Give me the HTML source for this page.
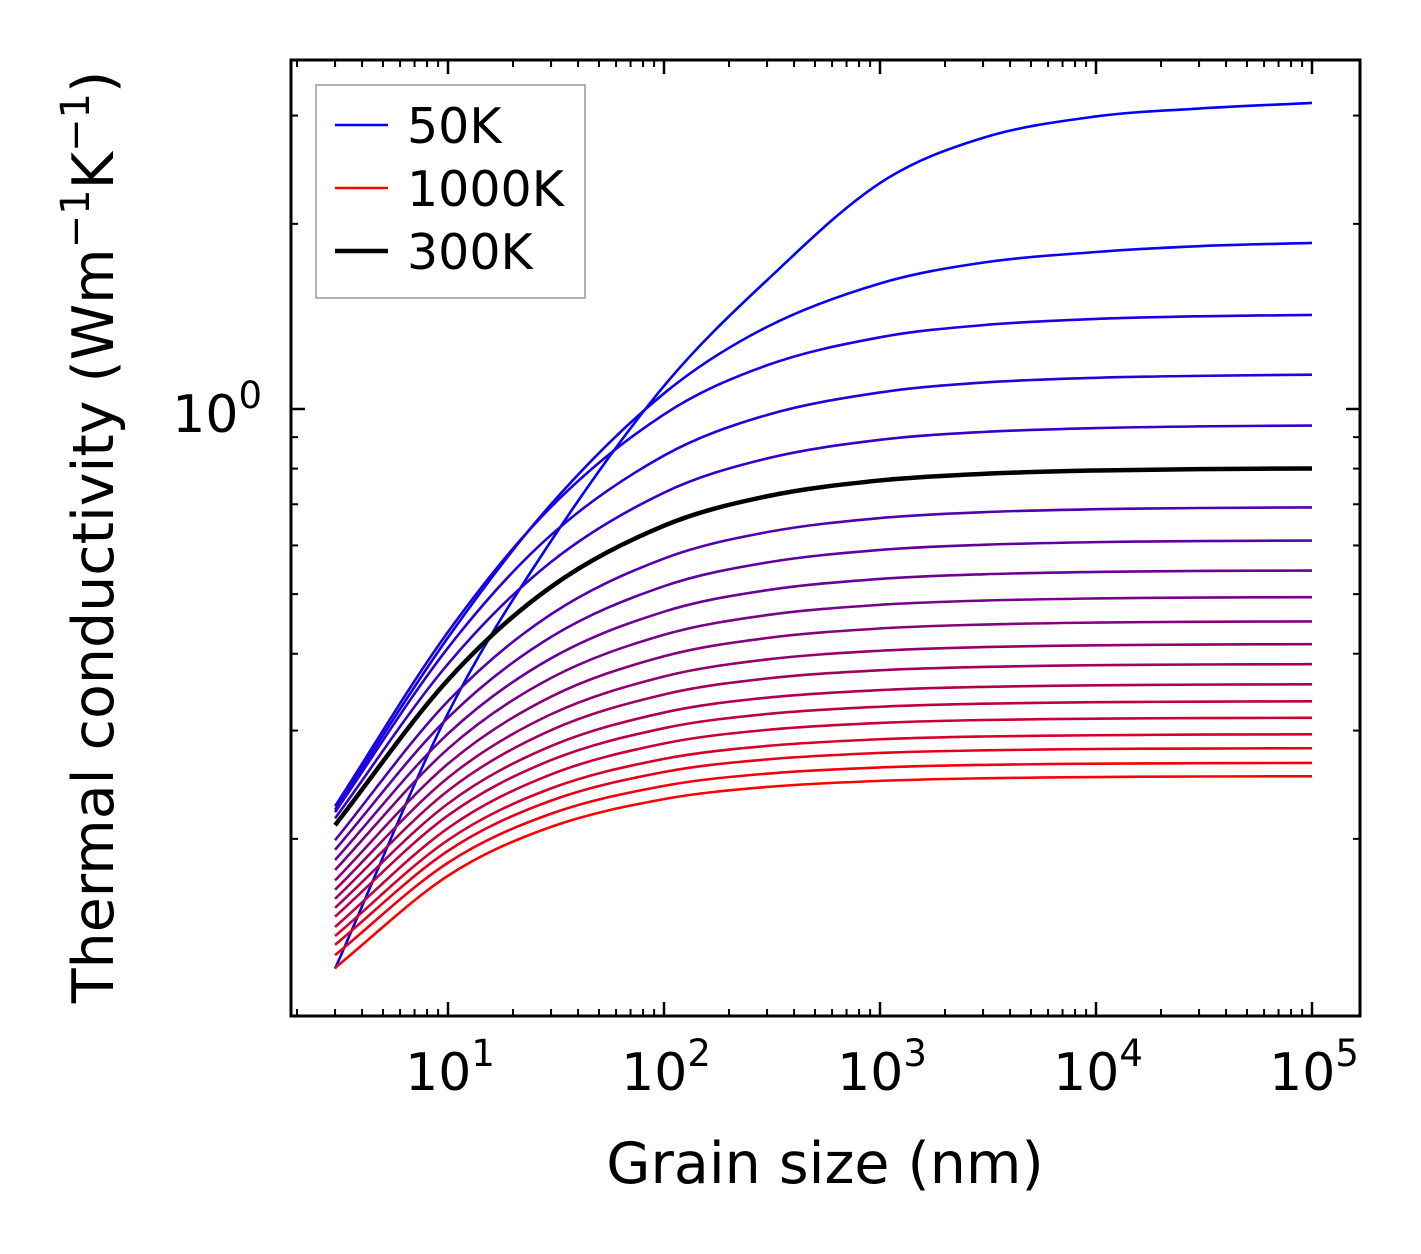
<!DOCTYPE html>
<html><head><meta charset="utf-8"><style>
html,body{margin:0;padding:0;background:#fff;}
svg{display:block;font-family:"DejaVu Sans","Liberation Sans",sans-serif;}
</style></head><body>
<svg id="chart" width="1421" height="1254" viewBox="0 0 1421 1254" xmlns="http://www.w3.org/2000/svg">
<g id="curves"></g>
<g id="ticks"></g>
<rect x="291" y="60" width="1069" height="956" fill="none" stroke="#000" stroke-width="3"/>
<g id="xlabels"></g>
<text x="262" y="432" font-size="52" text-anchor="end">10<tspan dy="-24" font-size="37">0</tspan></text>
<text x="825" y="1183" font-size="57" text-anchor="middle">Grain size (nm)</text>
<text transform="translate(113,537) rotate(-90)" font-size="57" text-anchor="middle">Thermal conductivity (Wm<tspan dy="-24" font-size="40">−1</tspan><tspan dy="24">K</tspan><tspan dy="-24" font-size="40">−1</tspan><tspan dy="24">)</tspan></text>
<g>
<rect x="316" y="85" width="269" height="213" fill="#fff" stroke="#999" stroke-width="1.5"/>
<line x1="335" y1="125" x2="388" y2="125" stroke="#0000ff" stroke-width="2.4"/>
<text x="407" y="143" font-size="49">50K</text>
<line x1="335" y1="188" x2="388" y2="188" stroke="#ff0000" stroke-width="2.4"/>
<text x="407" y="206" font-size="49">1000K</text>
<line x1="335" y1="251" x2="388" y2="251" stroke="#000" stroke-width="4.5"/>
<text x="407" y="269" font-size="49">300K</text>
</g>
</svg>
<script>
const grainSizes = [3, 10, 30, 100, 300, 1000, 3000, 10000, 30000, 100000];
const temperatures = [50,100,150,200,250,300,350,400,450,500,550,600,650,700,750,800,850,900,950,1000];
const k50 = [0.123,0.32,0.61,1.09,1.62,2.33,2.76,2.99,3.08,3.145];
const k100 = [0.223,0.425,0.70,1.06,1.36,1.60,1.73,1.80,1.84,1.862];
const k150 = [0.226,0.434,0.693,0.980,1.178,1.308,1.369,1.401,1.415,1.422];
const k200 = [0.221,0.409,0.624,0.840,0.978,1.064,1.104,1.124,1.132,1.137];
const k250 = [0.216,0.385,0.564,0.731,0.831,0.891,0.9175,0.931,0.937,0.940];
const k300 = [0.2105,0.3627,0.5138,0.646,0.7213,0.7653,0.7845,0.7944,0.7985,0.8004];
const k350 = [0.199,0.335,0.4637,0.5713,0.6306,0.6648,0.6796,0.6872,0.6903,0.6918];
const k400 = [0.192,0.3148,0.4259,0.5151,0.5629,0.590,0.6015,0.6075,0.6099,0.6111];
const k450 = [0.1848,0.2965,0.3932,0.4682,0.5074,0.5293,0.5386,0.5433,0.5453,0.5462];
const k500 = [0.178,0.2802,0.3653,0.4294,0.4623,0.4804,0.4881,0.492,0.4936,0.4944];
const k550 = [0.1712,0.2649,0.3406,0.3962,0.4243,0.4397,0.4462,0.4495,0.4508,0.4515];
const k600 = [0.1653,0.2514,0.3189,0.3673,0.3915,0.4045,0.4101,0.4128,0.414,0.4146];
const k650 = [0.1598,0.2395,0.3005,0.3434,0.3646,0.376,0.3807,0.3832,0.3842,0.3846];
const k700 = [0.1545,0.2282,0.2831,0.3209,0.3393,0.3491,0.3533,0.3554,0.3563,0.3567];
const k750 = [0.1495,0.2183,0.2686,0.3027,0.3192,0.328,0.3318,0.3336,0.3343,0.3347];
const k800 = [0.1438,0.2082,0.2546,0.2858,0.3008,0.3087,0.3121,0.3137,0.3144,0.3147];
const k850 = [0.139,0.1991,0.2416,0.2698,0.2832,0.2904,0.2934,0.2948,0.2955,0.2958];
const k900 = [0.1345,0.1912,0.2308,0.2569,0.2693,0.2759,0.2786,0.280,0.2805,0.2808];
const k950 = [0.1294,0.1829,0.2197,0.2439,0.2553,0.2613,0.2638,0.2650,0.2655,0.2658];
const k1000 = [0.1234,0.1742,0.2092,0.2321,0.2429,0.2485,0.2509,0.2521,0.2526,0.2528];
const series = [k50,k100,k150,k200,k250,k300,k350,k400,k450,k500,k550,k600,k650,k700,k750,k800,k850,k900,k950,k1000];
const xTickLabels = ["1","2","3","4","5"];
const yMinorTicks = [0.2,0.3,0.4,0.5,0.6,0.7,0.8,0.9,2,3];

const NS = "http://www.w3.org/2000/svg";
function xs(v){ return 448 + (Math.log10(v) - 1) * 216; }
function ys(v){ return 409 - Math.log10(v) * 615; }

function pathFor(arr){
  const pts = grainSizes.map((g,i)=>[xs(g), ys(arr[i])]);
  let d = "M" + pts[0][0].toFixed(2) + "," + pts[0][1].toFixed(2);
  for(let i=0;i<pts.length-1;i++){
    const p0 = pts[Math.max(0,i-1)], p1 = pts[i], p2 = pts[i+1], p3 = pts[Math.min(pts.length-1,i+2)];
    const h = p2[0]-p1[0];
    const s1 = (p2[1]-p0[1])/(p2[0]-p0[0]);
    const s2 = (p3[1]-p1[1])/(p3[0]-p1[0]);
    const c1x = p1[0] + h/3, c1y = p1[1] + s1*h/3;
    const c2x = p2[0] - h/3, c2y = p2[1] - s2*h/3;
    d += " C" + c1x.toFixed(2)+","+c1y.toFixed(2)+" "+c2x.toFixed(2)+","+c2y.toFixed(2)+" "+p2[0].toFixed(2)+","+p2[1].toFixed(2);
  }
  return d;
}

const cg = document.getElementById("curves");
const n = series.length;
let blackPath = null;
series.forEach((arr,i)=>{
  const p = document.createElementNS(NS,"path");
  p.setAttribute("d", pathFor(arr));
  p.setAttribute("fill","none");
  if(temperatures[i] === 300){
    p.setAttribute("stroke","#000");
    p.setAttribute("stroke-width","4.5");
    blackPath = p;
  } else {
    const t = i/(n-1);
    p.setAttribute("stroke", "rgb(" + Math.round(255*t) + ",0," + Math.round(255*(1-t)) + ")");
    p.setAttribute("stroke-width","2.6");
  }
  
  
  cg.appendChild(p);
});
if(blackPath) cg.appendChild(blackPath);

const tg = document.getElementById("ticks");
function tick(x1,y1,x2,y2,w){
  const l = document.createElementNS(NS,"line");
  l.setAttribute("x1",x1); l.setAttribute("y1",y1); l.setAttribute("x2",x2); l.setAttribute("y2",y2);
  l.setAttribute("stroke","#000"); l.setAttribute("stroke-width",w);
  
  
  tg.appendChild(l);
}
for(let e=0;e<=5;e++){
  for(let m=1;m<=9;m++){
    const v = m*Math.pow(10,e);
    const x = xs(v);
    if(x < 292 || x > 1359) continue;
    const len = m===1 ? 14 : 7;
    const w = m===1 ? 2.5 : 2;
    tick(x,1016,x,1016-len,w);
    tick(x,60,x,60+len,w);
  }
}
tick(291,ys(1),305,ys(1),2.5);
tick(1360,ys(1),1346,ys(1),2.5);
yMinorTicks.forEach(v=>{
  const y = ys(v);
  tick(291,y,298,y,2);
  tick(1360,y,1353,y,2);
});

const xl = document.getElementById("xlabels");
xTickLabels.forEach(lab=>{
  const t = document.createElementNS(NS,"text");
  t.setAttribute("x", xs(Math.pow(10, Number(lab))) + 2);
  t.setAttribute("y", 1090);
  t.setAttribute("font-size","52");
  t.setAttribute("text-anchor","middle");
  t.innerHTML = '10<tspan dy="-24" font-size="37">' + lab + '</tspan>';
  
  
  xl.appendChild(t);
});
</script>
</body></html>
